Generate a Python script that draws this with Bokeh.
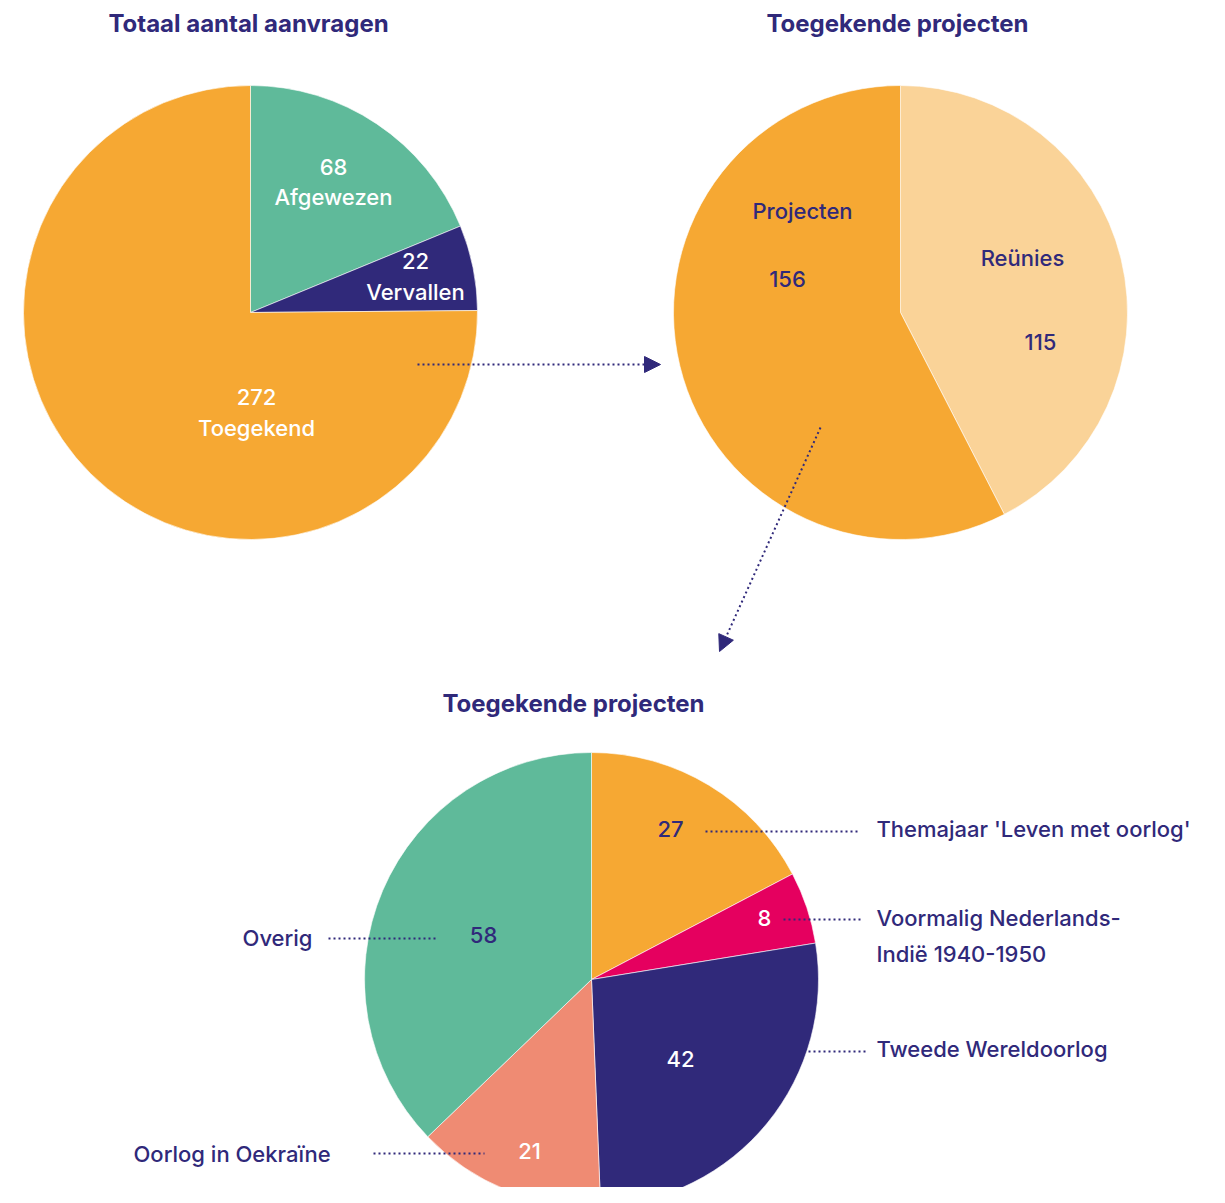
import numpy as np
from bokeh.plotting import figure
from bokeh.models import ColumnDataSource, Range1d, Arrow, NormalHead
from bokeh.core.properties import value
from bokeh.embed import file_html
from bokeh.resources import INLINE

# ---------------- data ----------------
p1_labels = ["Afgewezen", "Vervallen", "Toegekend"]
p1_values = [68, 22, 272]
p1_colors = ["#5FBA9A", "#30297A", "#F6A833"]

p2_labels = ["Reünies", "Projecten"]
p2_values = [115, 156]
p2_colors = ["#FAD398", "#F6A833"]

p3_labels = ["Themajaar 'Leven met oorlog'", "Voormalig Nederlands-Indië 1940-1950",
             "Tweede Wereldoorlog", "Oorlog in Oekraïne", "Overig"]
p3_values = [27, 8, 42, 21, 58]
p3_colors = ["#F6A833", "#E5005F", "#30297A", "#EF8B73", "#5FBA9A"]

NAVY = "#30297A"
FONT = "Inter"
LFONT = "Inter Medium, Roboto Medium, Inter"
H = 1203  # image height, used to flip image-y to data-y


def Y(v):
    return H - v


W, HH = 1209, 1187
p = figure(width=W, height=HH, output_backend="svg", toolbar_location=None,
           x_range=Range1d(0, W), y_range=Range1d(H - HH, H),
           x_axis_type=None, y_axis_type=None, min_border=0)
p.grid.visible = False
p.outline_line_color = None
p.background_fill_color = "white"
p.border_fill_color = "white"


def pie(cx, cy, r, vals, cols):
    vals = np.asarray(vals, dtype=float)
    frac = vals / vals.sum()
    cum = np.concatenate([[0], np.cumsum(frac)])
    start = np.pi / 2 - cum[1:] * 2 * np.pi
    end = np.pi / 2 - cum[:-1] * 2 * np.pi
    src = ColumnDataSource(dict(x=[cx] * len(vals), y=[Y(cy)] * len(vals),
                                start=start, end=end, color=cols))
    p.wedge(x="x", y="y", radius=r, start_angle="start", end_angle="end",
            fill_color="color", line_color="white", line_width=0.6, source=src)


pie(250, 312, 227, p1_values, p1_colors)
pie(900, 312, 227, p2_values, p2_colors)
pie(591, 979, 227, p3_values, p3_colors)


def txt(x, y, s, color=NAVY, size="22px", align="center", title=False):
    p.text(x=[x], y=[Y(y)], text=[s], text_color=color,
           text_font=value(FONT if title else LFONT),
           text_font_size=size, text_align=align, text_baseline="middle",
           text_font_style="bold" if title else "normal")


# titles
txt(248, 23, "Totaal aantal aanvragen", size="24px", title=True)
txt(897, 23, "Toegekende projecten", size="24px", title=True)
txt(573, 703, "Toegekende projecten", size="24px", title=True)

# pie 1 labels
txt(333, 166, str(p1_values[0]), color="white")
txt(333, 196, p1_labels[0], color="white")
txt(415, 260, str(p1_values[1]), color="white")
txt(415, 291, p1_labels[1], color="white")
txt(256, 396, str(p1_values[2]), color="white")
txt(256, 427, p1_labels[2], color="white")

# pie 2 labels
txt(802, 210, p2_labels[1])
txt(787, 278, str(p2_values[1]))
txt(1022, 257, p2_labels[0])
txt(1040, 341, str(p2_values[0]))

# pie 3 values
txt(670, 828, str(p3_values[0]))
txt(764, 917, str(p3_values[1]), color="white")
txt(680, 1058, str(p3_values[2]), color="white")
txt(529, 1150, str(p3_values[3]), color="white")
txt(483, 934, str(p3_values[4]))

# pie 3 outside labels
txt(876, 828, p3_labels[0], align="left")
txt(876, 917, "Voormalig Nederlands-", align="left")
txt(876, 953, "Indië 1940-1950", align="left")
txt(876, 1048, p3_labels[2], align="left")
txt(312, 937, p3_labels[4], align="right")
txt(133, 1153, p3_labels[3], align="left")

# leader lines
leaders = [((705, 857), 831), ((783, 860), 919), ((808, 866), 1051),
           ((328, 438), 938), ((373, 484), 1153)]
for (x0, x1), yy in leaders:
    p.line(x=[x0, x1], y=[Y(yy), Y(yy)], line_color=NAVY, line_width=2,
           line_dash="2 3")

# arrows
for (xs, ys, xe, ye) in [(417, 364, 660, 364), (820, 427, 719, 651)]:
    p.add_layout(Arrow(end=NormalHead(size=16, fill_color=NAVY, line_color=NAVY),
                       x_start=xs, y_start=Y(ys), x_end=xe, y_end=Y(ye),
                       line_color=NAVY, line_width=2, line_dash="2 3"))

open("out.html", "w").write(file_html(p, INLINE))
